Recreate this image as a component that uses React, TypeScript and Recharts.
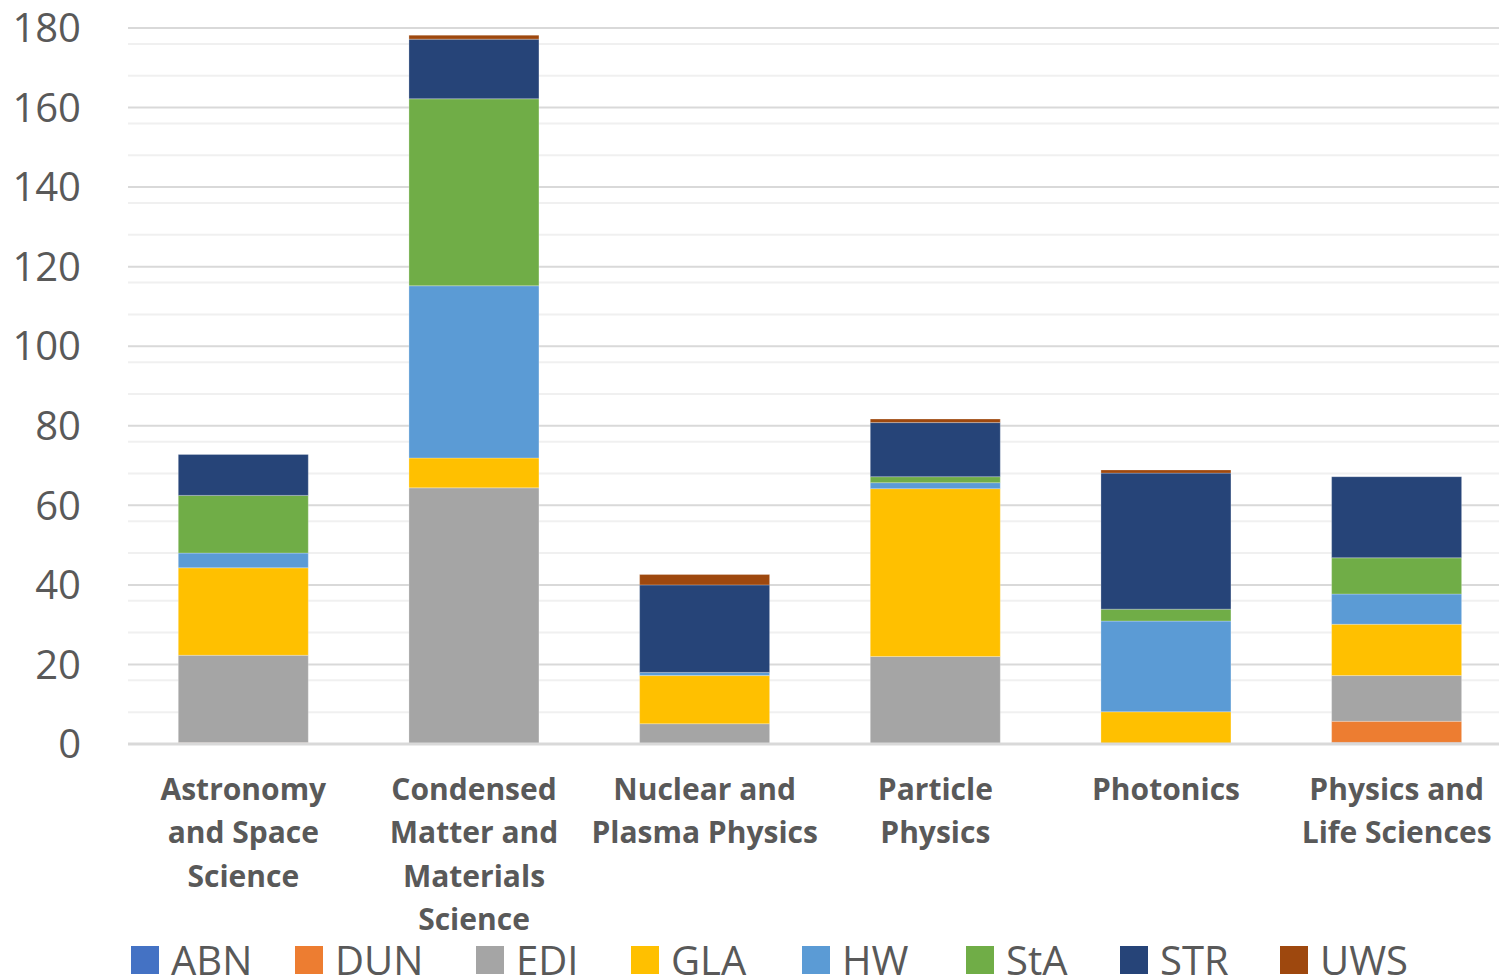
import { BarChart, Bar, XAxis, YAxis, CartesianGrid, Legend } from "recharts";

const categories = [
  "Astronomy and Space Science",
  "Condensed Matter and Materials Science",
  "Nuclear and Plasma Physics",
  "Particle Physics",
  "Photonics",
  "Physics and Life Sciences",
];

// how each category label wraps under the axis
const categoryLines = [
  ["Astronomy", "and Space", "Science"],
  ["Condensed", "Matter and", "Materials", "Science"],
  ["Nuclear and", "Plasma Physics"],
  ["Particle", "Physics"],
  ["Photonics"],
  ["Physics and", "Life Sciences"],
];

const ABN = [0, 0, 0, 0, 0, 0.4];
const DUN = [0.3, 0, 0, 0, 0, 5.3];
const EDI = [22, 64.4, 5.1, 22, 0, 11.5];
const GLA = [22, 7.5, 12.1, 42.2, 8.1, 12.9];
const HW = [3.7, 43.3, 0.8, 1.5, 22.8, 7.6];
const StA = [14.5, 47, 0, 1.5, 3, 9.1];
const STR = [10.3, 15, 22, 13.6, 34.2, 20.4];
const UWS = [0, 1, 2.6, 0.9, 0.8, 0];

const yTicks = [0, 20, 40, 60, 80, 100, 120, 140, 160, 180];
const minorTicks = Array.from({ length: 46 }, (_, i) => i * 4).filter((v) => v % 20 !== 0);

const series = [
  { key: "ABN", values: ABN, color: "#4472C4" },
  { key: "DUN", values: DUN, color: "#ED7D31" },
  { key: "EDI", values: EDI, color: "#A5A5A5" },
  { key: "GLA", values: GLA, color: "#FFC000" },
  { key: "HW", values: HW, color: "#5B9BD5" },
  { key: "StA", values: StA, color: "#70AD47" },
  { key: "STR", values: STR, color: "#264478" },
  { key: "UWS", values: UWS, color: "#9E480E" },
];

// widths of the legend slots, so the entries spread like the original
const legendSlots = [164, 181, 155, 171, 164, 154, 160, 160];

const data = categories.map((name, i) => {
  const row: Record<string, string | number> = { name };
  series.forEach((s) => {
    row[s.key] = s.values[i];
  });
  return row;
});

const textColor = "#595959";
const font = "'Open Sans', sans-serif";

const CategoryTick = (props: any) => {
  const { x, y, payload } = props;
  const lines = categoryLines[payload.index] ?? [payload.value];
  return (
    <g transform={`translate(${x},${y})`}>
      {lines.map((line: string, i: number) => (
        <text
          key={i}
          x={0}
          y={37 + i * 43.5}
          dy="0.35em"
          textAnchor="middle"
          fill={textColor}
          fontFamily={font}
          fontWeight={700}
          fontSize={30}
        >
          {line}
        </text>
      ))}
    </g>
  );
};

const LegendRow = () => (
  <div
    style={{
      display: "flex",
      alignItems: "center",
      height: 40,
      paddingLeft: 131,
      fontFamily: font,
      fontSize: 40,
      color: textColor,
      lineHeight: "40px",
    }}
  >
    {series.map((s, i) => (
      <div
        key={s.key}
        style={{ display: "flex", alignItems: "center", width: legendSlots[i], flex: "none" }}
      >
        <span
          style={{
            display: "inline-block",
            width: 28,
            height: 28,
            background: s.color,
            marginRight: 12,
          }}
        />
        <span>{s.key}</span>
      </div>
    ))}
  </div>
);

export default function App() {
  return (
    <div
      style={{
        position: "absolute",
        left: 0,
        top: 0,
        width: 1499,
        height: 980,
        overflow: "hidden",
        background: "#fff",
      }}
    >
      <BarChart
        width={1512}
        height={980}
        data={data}
        margin={{ top: 28, right: 0, left: 0, bottom: 0 }}
        barCategoryGap="21.8%"
      >
        <CartesianGrid
          vertical={false}
          horizontalValues={minorTicks}
          stroke="#f0f0f0"
          strokeWidth={2}
        />
        <CartesianGrid
          vertical={false}
          horizontalValues={yTicks}
          stroke="#d9d9d9"
          strokeWidth={2}
        />
        <XAxis
          dataKey="name"
          height={196}
          axisLine={{ stroke: "#d9d9d9", strokeWidth: 3 }}
          tickLine={false}
          interval={0}
          tick={<CategoryTick />}
        />
        <YAxis
          width={128}
          domain={[0, 180]}
          ticks={yTicks}
          axisLine={false}
          tickLine={false}
          tickSize={0}
          tickMargin={47}
          tick={{ fill: textColor, fontSize: 40, fontFamily: font }}
        />
        <Legend verticalAlign="bottom" content={<LegendRow />} />
        {series.map((s) => (
          <Bar
            key={s.key}
            dataKey={s.key}
            stackId="a"
            fill={s.color}
            stroke="#ffffff"
            strokeOpacity={0.5}
            strokeWidth={0.5}
            isAnimationActive={false}
          />
        ))}
      </BarChart>
    </div>
  );
}
